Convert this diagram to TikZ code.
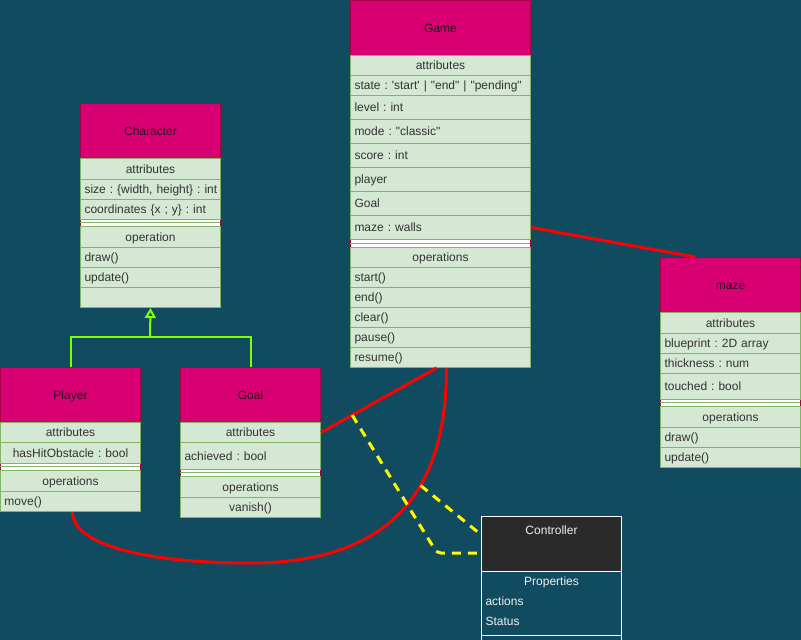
\documentclass[tikz,border=0pt]{standalone}
\usepackage{fontspec}
\newfontfamily\umlfont{Liberation Sans}
\usetikzlibrary{arrows.meta,calc}
\definecolor{bg}{HTML}{114B5F}
\definecolor{hdrfill}{HTML}{D80073}
\definecolor{hdrline}{HTML}{A50040}
\definecolor{hdrtext}{HTML}{1A1A1A}
\definecolor{rowfill}{HTML}{D5E8D4}
\definecolor{rowline}{HTML}{82B366}
\definecolor{rowtext}{HTML}{333333}
\definecolor{ctrlfill}{HTML}{2A2A2A}
\definecolor{ctrltext}{HTML}{F0F0F0}
\definecolor{inhgreen}{HTML}{80FF00}
\definecolor{assocred}{HTML}{FF0000}
\definecolor{depyellow}{HTML}{FFFF00}
\newcommand{\urow}[7]{\node[#2,#5,minimum height=#6pt] (#1) at (#3,#4) {\mbox{#7}};}
\newcommand{\umlsep}[5]{%
  \node[sepbar,minimum width=#4pt,minimum height=#5pt] (#1) at (#2,#3) {};
  \draw[hdrline,line width=1pt] (#1.north west) -- (#1.south west) (#1.north east) -- (#1.south east);
  \draw[rowline,line width=1pt] (#1.west) -- (#1.east);}
\begin{document}
\begin{tikzpicture}[x=1pt,y=-1pt,
  every node/.style={font=\umlfont\fontsize{12}{14}\selectfont\frenchspacing},
  box/.style={anchor=north west,inner xsep=4pt,inner ysep=0pt,line width=1pt,text height=8.6pt,text depth=0pt},
  hdr/.style={box,draw=hdrline,fill=hdrfill,text=hdrtext,align=center},
  rowc/.style={box,draw=rowline,fill=rowfill,text=rowtext,align=center},
  rowl/.style={box,draw=rowline,fill=rowfill,text=rowtext,align=left},
  sepbar/.style={anchor=north west,inner sep=0pt,fill=white,draw=none},
  wide/.style={text width=172pt},
  narrow/.style={text width=132pt},
  inh/.style={draw=inhgreen,line width=2pt},
  assoc/.style={draw=assocred,line width=3pt},
  dep/.style={draw=depyellow,line width=3pt,dash pattern=on 9pt off 7pt},
  ctext/.style={box,text=ctrltext,narrow,minimum height=20pt}]
\useasboundingbox (0,0) rectangle (801,640);
\fill[bg] (0,0) rectangle (801,640);
\clip (0,0) rectangle (801,640);

% separators (drawn first)
\umlsep{gS}{350}{239}{180}{8}
\umlsep{cS}{80}{219}{140}{7}
\umlsep{pS}{0}{463}{140}{7}
\umlsep{oS}{180}{469}{140}{7}
\umlsep{mS}{660}{399}{140}{7}

% Game
\urow{gH}{hdr}{350}{0}{wide}{55}{Game}
\urow{gA}{rowc}{350}{55}{wide}{20}{attributes}
\urow{g1}{rowl}{350}{75}{wide}{20}{state : 'start' | "end" | "pending"}
\urow{g2}{rowl}{350}{95}{wide}{24}{level : int}
\urow{g3}{rowl}{350}{119}{wide}{24}{mode : "classic"}
\urow{g4}{rowl}{350}{143}{wide}{24}{score : int}
\urow{g5}{rowl}{350}{167}{wide}{24}{player}
\urow{g6}{rowl}{350}{191}{wide}{24}{Goal}
\urow{g7}{rowl}{350}{215}{wide}{24}{maze : walls}
\urow{gO}{rowc}{350}{247}{wide}{20}{operations}
\urow{g8}{rowl}{350}{267}{wide}{20}{start()}
\urow{g9}{rowl}{350}{287}{wide}{20}{end()}
\urow{g10}{rowl}{350}{307}{wide}{20}{clear()}
\urow{g11}{rowl}{350}{327}{wide}{20}{pause()}
\urow{g12}{rowl}{350}{347}{wide}{20}{resume()}

% Character
\urow{cH}{hdr}{80}{103}{narrow}{55}{Character}
\urow{cA}{rowc}{80}{158}{narrow}{21}{attributes}
\urow{c1}{rowl}{80}{179}{narrow}{20}{size : \{width, height\} : int}
\urow{c2}{rowl}{80}{199}{narrow}{20}{coordinates \{x ; y\} : int}
\urow{cO}{rowc}{80}{226}{narrow}{21}{operation}
\urow{c3}{rowl}{80}{247}{narrow}{20}{draw()}
\urow{c4}{rowl}{80}{267}{narrow}{20}{update()}
\urow{cE}{rowl}{80}{287}{narrow}{20}{}

% Player
\urow{pH}{hdr}{0}{367}{narrow}{55}{Player}
\urow{pA}{rowc}{0}{422}{narrow}{20}{attributes}
\urow{p1}{rowc}{0}{442}{narrow}{21}{hasHitObstacle : bool}
\urow{pO}{rowc}{0}{470}{narrow}{21}{operations}
\urow{p2}{rowl}{0}{491}{narrow}{20}{move()}

% Goal
\urow{oH}{hdr}{180}{367}{narrow}{55}{Goal}
\urow{oA}{rowc}{180}{422}{narrow}{20}{attributes}
\urow{o1}{rowl}{180}{442}{narrow}{27}{achieved : bool}
\urow{oO}{rowc}{180}{476}{narrow}{21}{operations}
\urow{o2}{rowc}{180}{497}{narrow}{20}{vanish()}

% maze
\urow{mH}{hdr}{660}{257}{narrow}{55}{maze}
\urow{mA}{rowc}{660}{312}{narrow}{21}{attributes}
\urow{m1}{rowl}{660}{333}{narrow}{20}{blueprint : 2D array}
\urow{m2}{rowl}{660}{353}{narrow}{20}{thickness : num}
\urow{m3}{rowl}{660}{373}{narrow}{26}{touched : bool}
\urow{mO}{rowc}{660}{406}{narrow}{21}{operations}
\urow{m4}{rowl}{660}{427}{narrow}{20}{draw()}
\urow{m5}{rowl}{660}{447}{narrow}{20}{update()}

% Controller
\node[anchor=north west,inner sep=0pt,draw=white,fill=ctrlfill,line width=1pt,minimum width=140pt,minimum height=55pt] (kH) at (481,516) {};
\node[anchor=north,inner sep=0pt,text=ctrltext,text height=8.6pt,text depth=0pt] (kT) at ($(kH.north)+(0,9.7)$) {Controller};
\node[anchor=north west,inner sep=0pt,draw=white,line width=1pt,minimum width=140pt,minimum height=64pt] (kB) at (481,571) {};
\node[anchor=north west,inner sep=0pt,draw=white,line width=1pt,minimum width=140pt,minimum height=30pt] (kB2) at (481,635) {};
\node[ctext,align=center] (kP) at (481,571) {Properties};
\node[ctext,align=left] (kAct) at (481,591) {actions};
\node[ctext,align=left] (kSt) at (481,611) {Status};

% inheritance
\coordinate (junc) at (150,337);
\draw[inh] (pH.north) |- (junc) -| (oH.north);
\draw[inh,-{Triangle[open,width=11pt,length=10pt]}] (junc) -- (cE.south);

% associations
\draw[assoc] (g7.east) -- ($(mH.north west)+(35,0)$);
\draw[assoc] (oA.east) -- ($(g12.south)+(-4,0)$) coordinate[pos=0.27] (y1s);
\coordinate (cb) at (250,563);
\draw[assoc] ($(p2.south)+(2,0)$) .. controls +(0,34) and +(-100,0) .. (cb)
  .. controls +(150,0) and +(0,113) .. ($(g12.south)+(6,0)$) coordinate[pos=0.6] (y2s);

% dependencies
\coordinate (yc1) at (437,553);
\draw[dep,rounded corners=4pt] (y1s) -- (yc1) -- (kH.west |- yc1);
\draw[dep] (y2s) -- ($(kH.west)+(-2,-11)$);
\end{tikzpicture}
\end{document}
